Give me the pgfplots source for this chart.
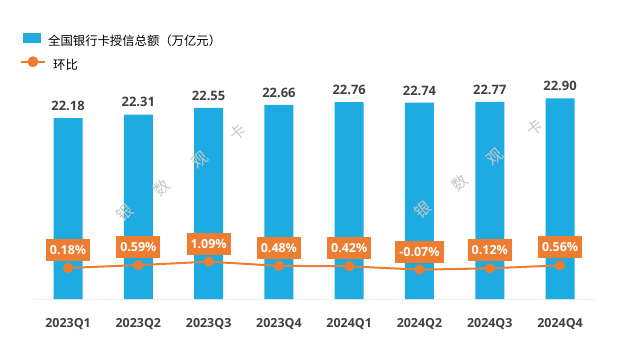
\documentclass[border=0pt]{standalone}
\usepackage{pgfplots}
\pgfplotsset{compat=1.18}
\usepackage{fontspec}
\setmainfont{Open Sans}
\newfontfamily\cjk{Noto Sans CJK SC}
\definecolor{barblue}{HTML}{1DABE2}
\definecolor{lineorange}{HTML}{ED7D31}
\definecolor{txtgray}{HTML}{404040}
\definecolor{wm}{HTML}{C8C8C8}
\begin{document}
\begin{tikzpicture}[x=1bp,y=1bp]
\path[use as bounding box] (0,0) rectangle (640,360);
\begin{axis}[at={(32.9bp,61bp)}, anchor=south west, scale only axis,
  width=562.3bp, height=279bp, xmin=-0.5, xmax=7.5, ymin=15.6, ymax=25.75,
  axis x line=bottom, axis y line=none, x axis line style={draw=black!8, line width=1bp, -},
  xtick=data, xticklabels={2023Q1,2023Q2,2023Q3,2023Q4,2024Q1,2024Q2,2024Q3,2024Q4},
  major tick length=0pt,
  xticklabel style={font=\bfseries\fontsize{12.5}{13}\selectfont, text=txtgray, yshift=-16bp},
  ybar, bar width=29bp, clip=false]
\addplot[fill=barblue, draw=none, nodes near coords,
  nodes near coords style={font=\bfseries\fontsize{13}{13}\selectfont, text=txtgray, yshift=4bp},
  /pgf/number format/.cd, fixed, fixed zerofill, precision=2, assume math mode=true] coordinates {
(0,22.18) (1,22.31) (2,22.55) (3,22.66) (4,22.76) (5,22.74) (6,22.77) (7,22.90)};
\end{axis}
\begin{axis}[at={(32.9bp,61bp)}, anchor=south west, scale only axis,
  width=562.3bp, height=279bp, xmin=-0.5, xmax=7.5, ymin=-4.32, ymax=36.1,
  axis lines=none, clip=false]
\addplot[lineorange, line width=2bp, mark=*, mark size=4bp,
  mark options={fill=lineorange, draw=lineorange},
  nodes near coords, point meta=explicit symbolic,
  nodes near coords style={fill=lineorange, text=white, font=\bfseries\fontsize{12.5}{13}\selectfont,
    anchor=south, yshift=6bp, inner xsep=4bp, inner ysep=0pt, minimum height=22bp}] coordinates {
(0,0.18) [0.18\%]
(1,0.59) [0.59\%]
(2,1.09) [1.09\%]
(3,0.48) [0.48\%]
(4,0.42) [0.42\%]
(5,-0.07) [-0.07\%]
(6,0.12) [0.12\%]
(7,0.56) [0.56\%]};
\end{axis}
% legend
\fill[barblue] (23,317) rectangle (41,327);
\node[anchor=west, inner sep=0pt, text=black] at (48,319.5) {\cjk\fontsize{12.4}{13}\selectfont 全国银行卡授信总额（万亿元）};
\draw[lineorange, line width=2bp] (21,298.3) -- (45,298.3);
\fill[lineorange] (33,298.3) circle (5.5);
\node[anchor=west, inner sep=0pt, text=black] at (53,295.5) {\cjk\fontsize{12.4}{13}\selectfont 环比};
% watermark
\foreach \x/\y/\c in {125/213/银, 162/188/数, 200/160/观, 238/133/卡, 423/210/银, 460/183/数, 495/157/观, 535/128/卡}{
  \node[text=wm, rotate=40, inner sep=0pt] at (\x,360-\y) {\cjk\fontsize{16}{16}\selectfont \c};
}
\end{tikzpicture}
\end{document}
